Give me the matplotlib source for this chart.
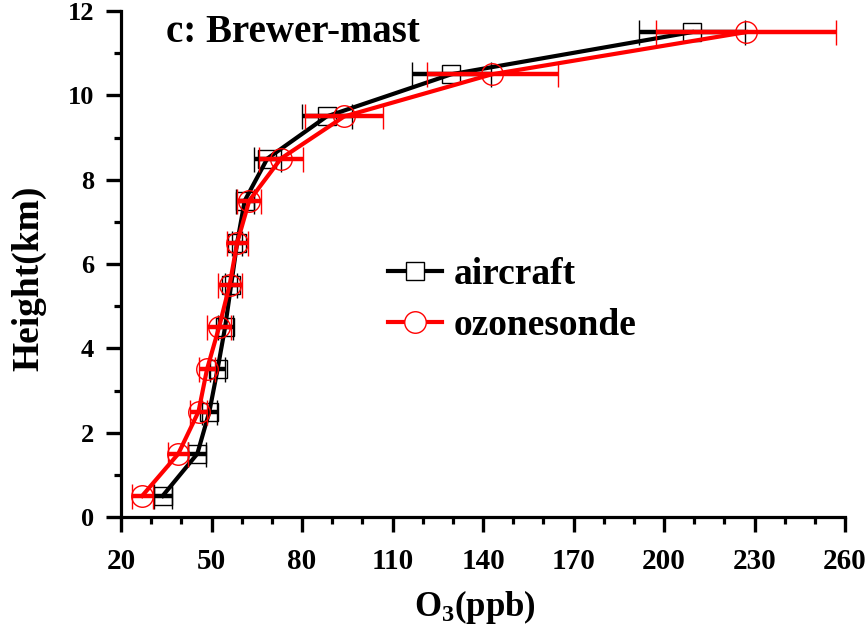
import matplotlib
matplotlib.use('Agg')
import numpy as np
import matplotlib.pyplot as plt
from matplotlib.lines import Line2D
from matplotlib.ticker import FixedLocator, MultipleLocator

# heights of each layer (km)
heights = [0.5, 1.5, 2.5, 3.5, 4.5, 5.5, 6.5, 7.5, 8.5, 9.5, 10.5, 11.5]
# aircraft O3 and its spread
aircraft = [33.8, 45.3, 49.3, 52.0, 54.5, 56.5, 58.5, 61.0, 68.5, 88.2, 129.5, 209.3]
aircraft_err = [3.0, 3.0, 2.5, 2.6, 2.5, 2.0, 1.7, 3.0, 4.5, 8.3, 13.0, 17.5]
# ozonesonde O3 and its spread
sonde = [27.0, 39.0, 45.7, 48.5, 52.5, 56.0, 58.5, 62.5, 73.0, 94.0, 143.0, 227.3]
sonde_err = [3.5, 3.3, 2.8, 2.8, 4.0, 4.0, 3.5, 4.0, 7.3, 13.0, 21.7, 29.8]

x_ticks = [20, 50, 80, 110, 140, 170, 200, 230, 260]
y_ticks = [0, 2, 4, 6, 8, 10, 12]

plt.rcParams['font.family'] = ['Liberation Serif', 'DejaVu Serif']
plt.rcParams['font.weight'] = 'bold'
plt.rcParams['mathtext.fontset'] = 'custom'
plt.rcParams['mathtext.rm'] = 'Liberation Serif:bold'
plt.rcParams['mathtext.bf'] = 'Liberation Serif:bold'
plt.rcParams['mathtext.it'] = 'Liberation Serif:bold'

fig = plt.figure(figsize=(8.66, 6.34), dpi=100)
ax = fig.add_axes([121 / 866, 1 - 517 / 634, 724 / 866, 506 / 634])

ax.errorbar(aircraft, heights, xerr=aircraft_err, color='black', lw=3.0,
            marker='s', ms=12.5, mfc='none', mec='black', mew=1.0,
            capsize=9, capthick=3.2, elinewidth=3.2, zorder=3)
ax.errorbar(sonde, heights, xerr=sonde_err, color='red', lw=3.0,
            marker='o', ms=15.5, mfc='none', mec='red', mew=1.0,
            capsize=9, capthick=3.2, elinewidth=3.2, zorder=4)

ax.set_xlim(20, 260)
ax.set_ylim(0, 12)
ax.xaxis.set_major_locator(FixedLocator(x_ticks))
ax.xaxis.set_minor_locator(MultipleLocator(10))
ax.yaxis.set_major_locator(FixedLocator(y_ticks))
ax.yaxis.set_minor_locator(MultipleLocator(1))

for side in ['top', 'right']:
    ax.spines[side].set_visible(False)
for side in ['left', 'bottom']:
    ax.spines[side].set_linewidth(2.3)

ax.tick_params(which='major', length=10.5, width=2.4)
ax.tick_params(which='minor', length=5, width=2.3)
ax.tick_params(axis='x', which='major', labelsize=21, pad=12)
ax.tick_params(axis='y', which='major', labelsize=19, pad=9)
for lab in ax.get_xticklabels() + ax.get_yticklabels():
    lab.set_fontweight('bold')

ax.set_xlabel('O$_3$(ppb)', fontsize=25, fontweight='bold')
ax.xaxis.set_label_coords(0.489, -0.14)
ax.set_ylabel('Height(km)', fontsize=27, fontweight='bold')
ax.yaxis.set_label_coords(-0.103, 0.472)

fig.text(166 / 866, 1 - 42 / 634, 'c: Brewer-mast', fontsize=28,
         fontweight='bold', va='baseline', ha='left')

handles = [
    Line2D([], [], color='black', lw=3.0, marker='s', ms=12.5, mfc='white',
           mec='black', mew=1.0),
    Line2D([], [], color='red', lw=3.0, marker='o', ms=15.5, mfc='white',
           mec='red', mew=1.0),
]
leg = fig.legend(handles, ['aircraft', 'ozonesonde'], loc='center left',
                 bbox_to_anchor=(388 / 866, 1 - 300 / 634), frameon=False,
                 fontsize=27, handlelength=1.45, handletextpad=0.3,
                 labelspacing=0.42, borderpad=0, borderaxespad=0)
for t in leg.get_texts():
    t.set_fontweight('bold')

fig.savefig('out.png', dpi=100)
